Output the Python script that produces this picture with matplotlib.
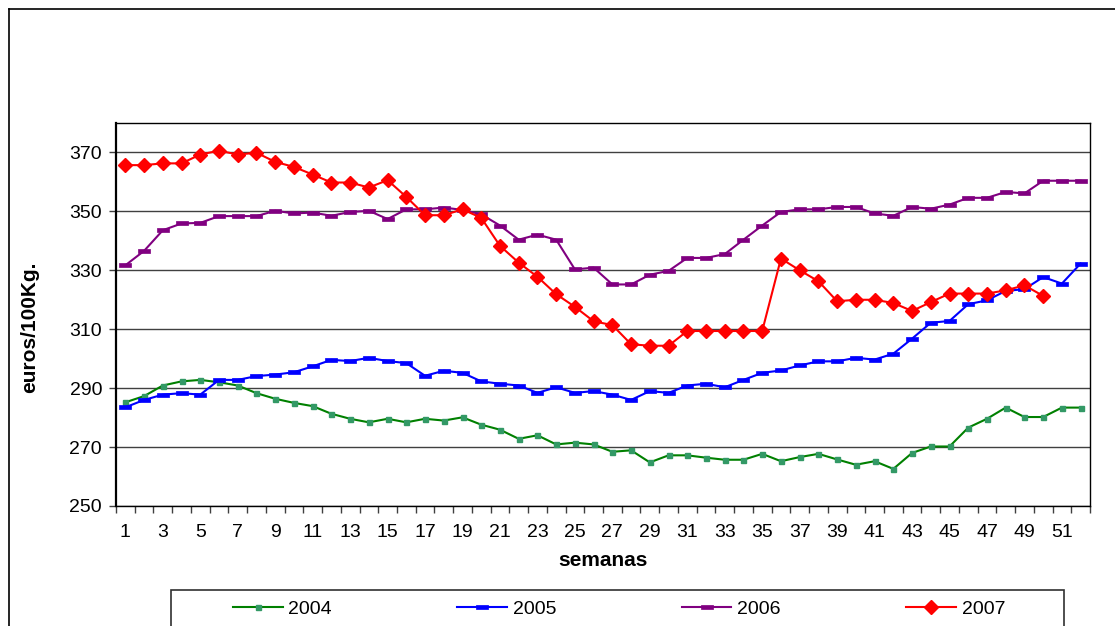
import numpy as np
import matplotlib
matplotlib.use("Agg")
import matplotlib.pyplot as plt
from matplotlib.path import Path
from matplotlib.patches import Rectangle
from matplotlib.lines import Line2D

plt.rcParams['font.family'] = ['Liberation Sans', 'DejaVu Sans']

weeks = list(range(1, 53))

price_2004 = [285.2, 287.3, 290.9, 292.3, 292.8, 292.0, 290.9, 288.3, 286.4, 285.0,
              283.9, 281.3, 279.6, 278.4, 279.6, 278.4, 279.6, 279.0, 280.1, 277.6,
              275.9, 272.8, 274.0, 270.9, 271.5, 270.9, 268.4, 268.9, 264.8, 267.2,
              267.2, 266.4, 265.7, 265.7, 267.7, 265.2, 266.6, 267.7, 265.8, 264.0,
              265.2, 262.6, 268.0, 270.2, 270.2, 276.6, 279.6, 283.4, 280.2, 280.2,
              283.4, 283.4]

price_2005 = [283.5, 286.0, 287.8, 288.3, 287.8, 292.8, 292.8, 294.1, 294.6, 295.4,
              297.4, 299.6, 299.2, 300.3, 299.2, 298.5, 294.2, 295.9, 295.2, 292.3,
              291.5, 290.9, 288.4, 290.3, 288.4, 289.0, 287.8, 286.0, 289.0, 288.4,
              290.9, 291.5, 290.3, 292.8, 295.2, 296.0, 297.7, 299.1, 299.1, 300.3,
              299.7, 301.7, 306.8, 312.2, 312.8, 318.5, 319.8, 323.0, 323.6, 327.7,
              325.5, 332.3]

price_2006 = [331.7, 336.6, 343.6, 345.9, 346.1, 348.4, 348.4, 348.4, 350.2, 349.3,
              349.6, 348.5, 349.8, 350.2, 347.4, 350.7, 350.7, 351.3, 350.5, 349.0,
              345.2, 340.4, 342.1, 340.4, 330.3, 330.9, 325.2, 325.2, 328.5, 329.8,
              334.2, 334.2, 335.5, 340.4, 345.2, 349.8, 350.7, 350.7, 351.5, 351.5,
              349.3, 348.5, 351.5, 350.9, 352.3, 354.6, 354.6, 356.6, 356.1, 360.4,
              360.4, 360.4]

# 2007 only runs to week 50
price_2007 = [365.7, 365.7, 366.3, 366.3, 369.3, 370.6, 369.3, 369.9, 366.8, 365.1,
              362.5, 359.8, 359.8, 358.1, 360.6, 354.9, 348.7, 348.7, 350.7, 347.8,
              338.3, 332.6, 327.8, 321.9, 317.6, 312.7, 311.4, 304.9, 304.4, 304.4,
              309.4, 309.4, 309.4, 309.4, 309.4, 334.0, 330.0, 326.3, 319.5, 320.0,
              320.0, 318.9, 316.2, 319.2, 322.1, 322.1, 322.1, 323.2, 324.9, 321.3]

series_labels = ['2004', '2005', '2006', '2007']
y_ticks = [250, 270, 290, 310, 330, 350, 370]
x_labels = list(range(1, 52, 2))

# flat rectangle marker like the Excel "dash" marker
dash = Path([(-1, -0.38), (1, -0.38), (1, 0.38), (-1, 0.38), (-1, -0.38)],
            [Path.MOVETO, Path.LINETO, Path.LINETO, Path.LINETO, Path.CLOSEPOLY])

W, H = 1115, 626
fig = plt.figure(figsize=(W / 100, H / 100), dpi=100)
ax = fig.add_axes([116 / W, 1 - 506 / H, (1090 - 116) / W, (506 - 123) / H])

fs = 14

ax.plot(weeks, price_2004, color='#008000', lw=1.5, marker='s', ms=3.6,
        mfc='#339966', mec='#339966', label=series_labels[0], zorder=3)
ax.plot(weeks, price_2005, color='#0000FF', lw=1.5, marker=dash, ms=8.5,
        mfc='#0000FF', mec='#0000FF', mew=0.5, label=series_labels[1], zorder=4)
ax.plot(weeks, price_2006, color='#800080', lw=1.5, marker=dash, ms=8.5,
        mfc='#800080', mec='#800080', mew=0.5, label=series_labels[2], zorder=4)
ax.plot(weeks[:len(price_2007)], price_2007, color='#FF0000', lw=1.5, marker='D', ms=6.8,
        mfc='#FF0000', mec='#FF0000', label=series_labels[3], zorder=5)

ax.set_xlim(0.5, 52.5)
ax.set_ylim(250, 380)
ax.set_yticks(y_ticks)
ax.yaxis.grid(True, color='#404040', lw=1)
ax.set_axisbelow(True)

# labels on odd weeks, tick marks on category boundaries
ax.set_xticks(x_labels)
ax.set_xticklabels([str(v) for v in x_labels], fontsize=fs)
ax.tick_params(axis='x', which='major', length=0, pad=13)
ax.set_xticks(np.arange(0.5, 53, 1), minor=True)
ax.tick_params(axis='x', which='minor', length=5, width=1, color='#404040', direction='out')
ax.tick_params(axis='y', labelsize=fs, length=5, width=1, color='#404040', pad=5)

for s in ax.spines.values():
    s.set_color('black')
    s.set_linewidth(1)
ax.spines['left'].set_linewidth(1.6)

ax.set_xlabel('semanas', fontsize=15, fontweight='bold', labelpad=7)
fig.text(30 / W, 1 - 327 / H, 'euros/100Kg.', rotation=90, fontsize=15,
         fontweight='bold', ha='center', va='center')

# outer chart border (left and top edges visible)
fig.add_artist(Line2D([8.5 / W, 8.5 / W], [0, 1 - 8.5 / H], color='black', lw=1.2))
fig.add_artist(Line2D([8.5 / W, 1], [1 - 8.5 / H, 1 - 8.5 / H], color='black', lw=1.2))

# legend frame runs off the bottom edge
fig.add_artist(Rectangle((171 / W, -0.05), (1064 - 171) / W, 0.05 + (1 - 590 / H),
                         transform=fig.transFigure, fill=False, ec='#303030', lw=1.2))
leg = fig.legend(loc='center left', bbox_to_anchor=(233 / W, 1 - 609 / H), ncol=4,
                 frameon=False, fontsize=fs, handlelength=2.55, handletextpad=0.3,
                 columnspacing=6.45, borderpad=0, borderaxespad=0)

fig.savefig('out.png', dpi=100)
